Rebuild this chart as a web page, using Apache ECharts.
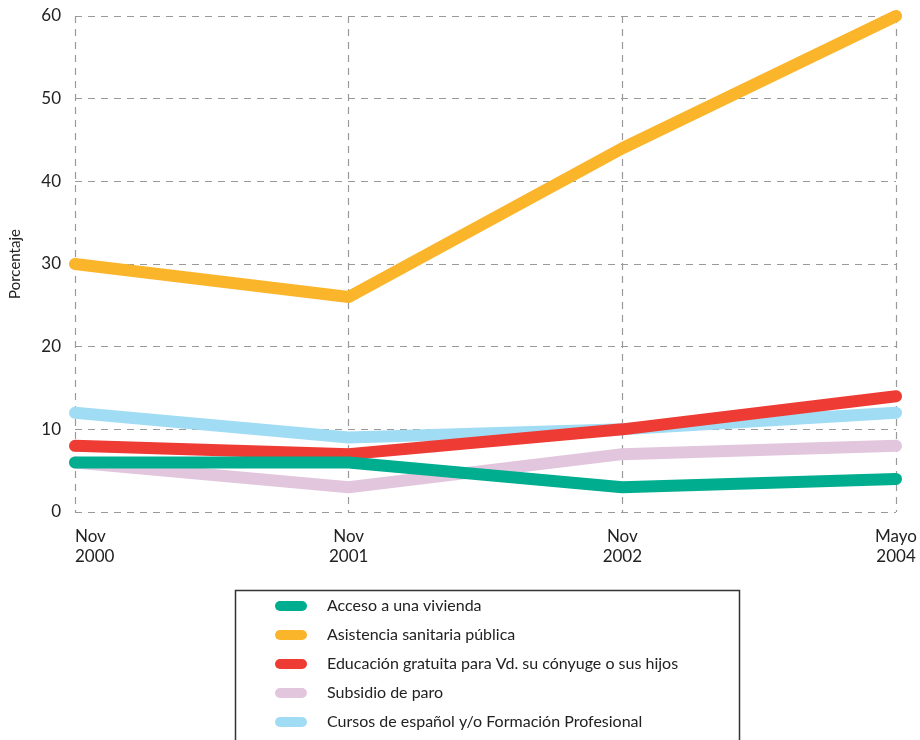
<!DOCTYPE html>
<html>
<head>
<meta charset="utf-8">
<script src="https://cdn.jsdelivr.net/npm/echarts@6/dist/echarts.min.js"></script>
<style>
  html, body { margin: 0; padding: 0; background: #fff; }
  #chart { width: 920px; height: 740px; }
</style>
</head>
<body>
<div id="chart"></div>
<script>
// Survey periods on the horizontal axis
const periods = ['Nov\n2000', 'Nov\n2001', 'Nov\n2002', 'Mayo\n2004'];

// Percentages per service
const acceso = [6, 6, 3, 4];
const asistencia = [30, 26, 44, 60];
const educacion = [8, 7, 10, 14];
const subsidio = [6, 3, 7, 8];
const cursos = [12, 9, 10, 12];

const names = [
  'Acceso a una vivienda',
  'Asistencia sanitaria pública',
  'Educación gratuita para Vd. su cónyuge o sus hijos',
  'Subsidio de paro',
  'Cursos de español y/o Formación Profesional'
];

const FONT = 'Lato, "Open Sans", sans-serif';
const gridLine = { show: true, lineStyle: { color: '#9a9a9a', type: [7, 6], width: 1.2 } };

function lineSeries(name, data, color, z) {
  return {
    name: name,
    type: 'line',
    data: data,
    symbol: 'none',
    showSymbol: false,
    z: z,
    itemStyle: { color: color, borderWidth: 0 },
    lineStyle: { color: color, width: 12, cap: 'round', join: 'round' },
    emphasis: { disabled: true }
  };
}

const chart = echarts.init(document.getElementById('chart'));
chart.setOption({
  backgroundColor: '#ffffff',
  animation: false,
  grid: { left: 72, right: 18, top: 16, bottom: 228, containLabel: false },
  xAxis: {
    type: 'category',
    data: periods,
    boundaryGap: false,
    axisLine: { show: false },
    axisTick: { show: false },
    splitLine: gridLine,
    axisLabel: {
      color: '#222',
      fontFamily: FONT,
      fontSize: 17,
      lineHeight: 20,
      margin: 15,
      alignMinLabel: 'left',
      alignMaxLabel: 'center'
    }
  },
  yAxis: {
    type: 'value',
    min: 0,
    max: 60,
    interval: 10,
    name: 'Porcentaje',
    nameLocation: 'middle',
    nameRotate: 90,
    nameGap: 52,
    nameTextStyle: { color: '#222', fontFamily: FONT, fontSize: 15 },
    axisLine: { show: false },
    axisTick: { show: false },
    splitLine: gridLine,
    axisLabel: { color: '#222', fontFamily: FONT, fontSize: 17, margin: 14 }
  },
  legend: {
    orient: 'vertical',
    left: 235,
    top: 590,
    padding: [6, 0, 0, 40],
    itemWidth: 32,
    itemHeight: 10,
    itemGap: 9,
    icon: 'path://M5,0 H27 A5,5 0 0 1 27,10 H5 A5,5 0 0 1 5,0 Z',
    data: names,
    itemStyle: { borderWidth: 0 },
    selectedMode: false,
    textStyle: { color: '#222', fontFamily: FONT, fontSize: 16, lineHeight: 20, padding: [0, 0, 0, 15] }
  },
  graphic: [{
    type: 'rect',
    shape: { x: 235.5, y: 590.5, width: 504, height: 200 },
    style: { fill: 'none', stroke: '#333', lineWidth: 1.5 },
    silent: true
  }],
  series: [
    lineSeries(names[4], cursos, '#a1dcf5', 2),
    lineSeries(names[3], subsidio, '#e2c6de', 3),
    lineSeries(names[2], educacion, '#ee3b33', 4),
    lineSeries(names[1], asistencia, '#fbb52b', 5),
    lineSeries(names[0], acceso, '#00ad8e', 6)
  ]
});
</script>
</body>
</html>
